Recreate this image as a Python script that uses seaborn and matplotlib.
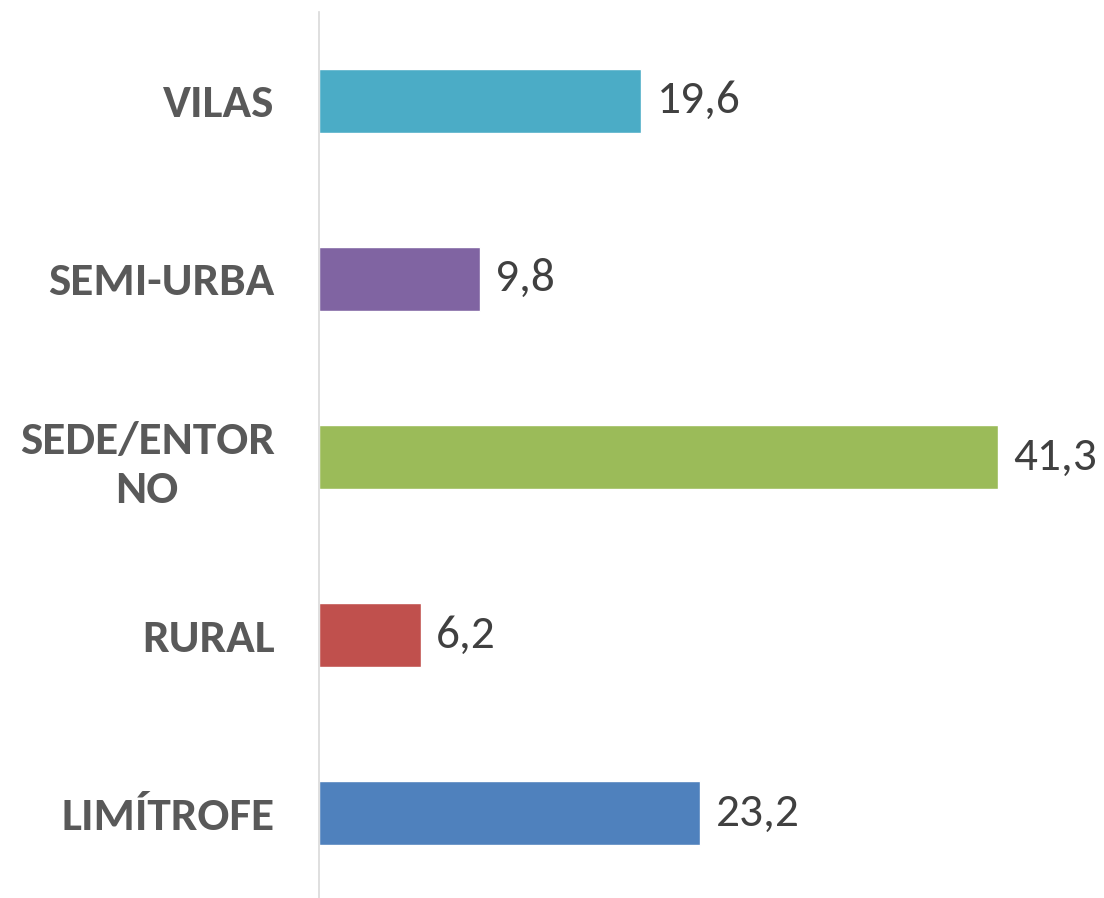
import matplotlib
matplotlib.use("Agg")
import matplotlib.pyplot as plt
import seaborn as sns
import pandas as pd

categories = ["VILAS", "SEMI-URBA", "SEDE/ENTOR\nNO", "RURAL", "LIMÍTROFE"]
values = [19.6, 9.8, 41.3, 6.2, 23.2]
colors = ["#4BACC6", "#8064A2", "#9BBB59", "#C0504D", "#4F81BD"]

df = pd.DataFrame({"cat": categories, "val": values})

sns.set_style("white")
plt.rcParams["font.family"] = ["Carlito", "Lato", "DejaVu Sans"]

fig = plt.figure(figsize=(11.04, 8.98), dpi=100)
ax = fig.add_axes([319 / 1104, -0.005, 1 - 319 / 1104, 0.992])

sns.barplot(data=df, x="val", y="cat", hue="cat", palette=colors, saturation=1,
            orient="h", width=0.36, legend=False, ax=ax)

for cont in ax.containers:
    ax.bar_label(cont, labels=[f"{v:.1f}".replace(".", ",") for v in cont.datavalues],
                 padding=11, fontsize=34, color="#404040")

ax.set_xlim(0, (1104 - 319) / 16.44)
ax.set_ylim(4.5, -0.5)
ax.set_xlabel("")
ax.set_ylabel("")
ax.set_xticks([])
ax.tick_params(axis="y", length=0, pad=32)
for lab in ax.get_yticklabels():
    lab.set_fontsize(34)
    lab.set_fontweight("bold")
    lab.set_color("#595959")
    lab.set_multialignment("center")
    lab.set_linespacing(1.3)

for s in ["top", "right", "bottom"]:
    ax.spines[s].set_visible(False)
ax.spines["left"].set_color("#D9D9D9")
ax.spines["left"].set_linewidth(1.2)

fig.savefig("out.png", dpi=100)
